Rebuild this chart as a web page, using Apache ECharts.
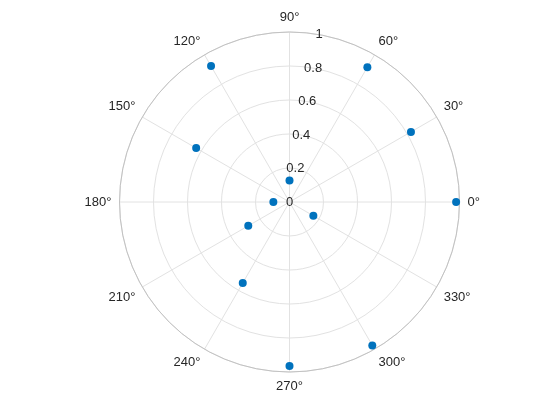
<!DOCTYPE html>
<html>
<head>
<meta charset="utf-8">
<script src="https://cdn.jsdelivr.net/npm/echarts@6/dist/echarts.min.js"></script>
<style>
html,body{margin:0;padding:0;background:#fff;}
#chart{width:560px;height:420px;}
</style>
</head>
<body>
<div id="chart"></div>
<script>
const thetaDeg = [0, 30, 60, 90, 120, 150, 180, 210, 240, 270, 300, 330];
const rValues = [0.98, 0.825, 0.916, 0.126, 0.923, 0.634, 0.095, 0.28, 0.55, 0.965, 0.974, 0.162];
const radiusTicks = [0, 0.2, 0.4, 0.6, 0.8, 1];

const FONT = 'Liberation Sans, Arial, Helvetica, sans-serif';
const TEXT = '#262626';
const GRID = '#e2e2e2';

const chart = echarts.init(document.getElementById('chart'), null, {renderer: 'canvas'});
const center = [289.5, 202];
const R = 170;

chart.setOption({
  animation: false,
  backgroundColor: '#ffffff',
  polar: [
    {center: center, radius: R},
    {center: center, radius: R}
  ],
  angleAxis: [
    {
      polarIndex: 0,
      type: 'value',
      min: 0, max: 360, interval: 30,
      startAngle: 0,
      clockwise: false,
      axisLine: {show: true, lineStyle: {color: '#c2c2c2', width: 1}},
      axisTick: {show: false},
      axisLabel: {
        show: true, margin: 8, color: TEXT, fontSize: 13, fontFamily: FONT,
        formatter: function (v) { return v >= 360 ? '' : v + '°'; }
      },
      splitLine: {show: true, lineStyle: {color: GRID, width: 1}}
    },
    {
      polarIndex: 1,
      type: 'value',
      min: 0, max: 360,
      startAngle: 80,
      clockwise: false,
      show: false
    }
  ],
  radiusAxis: [
    {
      polarIndex: 0,
      type: 'value',
      min: 0, max: 1, interval: 0.2,
      axisLine: {show: false},
      axisTick: {show: false},
      axisLabel: {show: false},
      splitLine: {show: true, lineStyle: {color: GRID, width: 1}}
    },
    {
      polarIndex: 1,
      type: 'value',
      min: radiusTicks[0], max: radiusTicks[radiusTicks.length - 1], interval: 0.2,
      axisLine: {show: false},
      axisTick: {show: false},
      splitLine: {show: false},
      axisLabel: {
        show: true, margin: 0, color: TEXT, fontSize: 13, fontFamily: FONT,
        align: 'center', verticalAlign: 'middle',
        formatter: function (v) { return String(Math.round(v * 10) / 10); }
      }
    }
  ],
  series: [
    {
      type: 'scatter',
      coordinateSystem: 'polar',
      polarIndex: 0,
      symbol: 'circle',
      symbolSize: 8,
      itemStyle: {color: '#0072BD', opacity: 1},
      data: thetaDeg.map(function (t, i) { return [rValues[i], t]; })
    }
  ]
});
</script>
</body>
</html>
